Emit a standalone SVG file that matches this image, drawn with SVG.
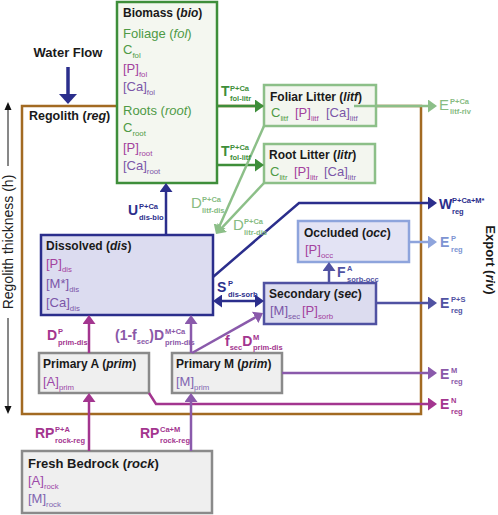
<svg xmlns="http://www.w3.org/2000/svg" width="498" height="515" viewBox="0 0 498 515">
<defs>
<style>
text{font-family:"Liberation Sans",Arial,Helvetica,sans-serif}
.h{font-size:12px;font-weight:bold;fill:#1a1a1a}
.c{font-size:13px}
.s{font-size:7.8px}
.L{font-size:14px;font-weight:bold}
.Lr{font-size:15px}
.ls{font-size:7.5px;font-weight:bold}
.i{font-style:italic}
.g{fill:#4e9a45}
.mg{fill:#a3419e}
.pu{fill:#7b56a8}
.pa{fill:#9c48a8}
.pm{fill:#8064b0}
.tG{fill:#3e8e3a}
.tLG{fill:#86bb82}
.tN{fill:#2b2e8c}
.tLB{fill:#7d94d2}
.tSB{fill:#5052a2}
.tPU{fill:#8a58a8}
.tMG{fill:#a3358f}
.ln{fill:none;stroke-width:2.5}
.box{stroke-width:2.5}
</style>
<marker id="aG" markerUnits="userSpaceOnUse" markerWidth="10" markerHeight="13" refX="6" refY="6.5" orient="auto"><path d="M0,0L9,6.5L0,13z" fill="#3e8e3a"/></marker>
<marker id="aLG" markerUnits="userSpaceOnUse" markerWidth="10" markerHeight="13" refX="6" refY="6.5" orient="auto"><path d="M0,0L9,6.5L0,13z" fill="#8cbf88"/></marker>
<marker id="aN" markerUnits="userSpaceOnUse" markerWidth="10" markerHeight="13" refX="6" refY="6.5" orient="auto-start-reverse"><path d="M0,0L9,6.5L0,13z" fill="#2b2e8c"/></marker>
<marker id="aLB" markerUnits="userSpaceOnUse" markerWidth="10" markerHeight="13" refX="6" refY="6.5" orient="auto"><path d="M0,0L9,6.5L0,13z" fill="#8ea4dc"/></marker>
<marker id="aSB" markerUnits="userSpaceOnUse" markerWidth="10" markerHeight="13" refX="6" refY="6.5" orient="auto"><path d="M0,0L9,6.5L0,13z" fill="#5052a2"/></marker>
<marker id="aPU" markerUnits="userSpaceOnUse" markerWidth="10" markerHeight="13" refX="6" refY="6.5" orient="auto"><path d="M0,0L9,6.5L0,13z" fill="#8a5aab"/></marker>
<marker id="aMG" markerUnits="userSpaceOnUse" markerWidth="10" markerHeight="13" refX="6" refY="6.5" orient="auto"><path d="M0,0L9,6.5L0,13z" fill="#a3358f"/></marker>
</defs>

<g id="regolith">
<rect x="22" y="106" width="399" height="308" fill="none" stroke="#a26a22" stroke-width="2.5"/>
<text x="29" y="120" class="h" style="font-size:12.5px">Regolith (<tspan class="i">reg</tspan>)</text>
</g>

<g id="water-flow">
<text x="68" y="57" text-anchor="middle" style="font-size:13px;font-weight:bold;fill:#1a1a1a">Water Flow</text>
<line x1="68" y1="67" x2="68" y2="95" stroke="#2b2e8c" stroke-width="3.5"/>
<polygon points="59,94 77,94 68,104" fill="#2b2e8c"/>
</g>

<g id="thickness">
<line x1="8" y1="108" x2="8" y2="166" stroke="#111" stroke-width="1"/>
<line x1="8" y1="318" x2="8" y2="408" stroke="#111" stroke-width="1"/>
<polygon points="8,102 4.5,110 11.5,110" fill="#111"/>
<polygon points="8,414 4.5,406 11.5,406" fill="#111"/>
<text transform="translate(13,242) rotate(-90)" text-anchor="middle" style="font-size:14px;fill:#222">Regolith thickness (h)</text>
</g>

<g id="export">
<text transform="translate(486,260) rotate(90)" text-anchor="middle" style="font-size:13px;font-weight:bold;fill:#1a1a1a">Export (<tspan class="i">riv</tspan>)</text>
</g>

<g id="biomass">
<rect x="117" y="2" width="100" height="181" fill="#f4f7f0" stroke="#3e8e3a" class="box"/>
<text x="123" y="17" class="h">Biomass (<tspan class="i">bio</tspan>)</text>
<text x="123" y="38" class="c g">Foliage (<tspan class="i">fol</tspan>)</text>
<text x="123" y="54" class="c g">C<tspan class="s" dy="4">fol</tspan></text>
<text x="123" y="73" class="c mg">[P]<tspan class="s" dy="4">fol</tspan></text>
<text x="123" y="91" class="c pu">[Ca]<tspan class="s" dy="4">fol</tspan></text>
<text x="123" y="115" class="c g">Roots (<tspan class="i">root</tspan>)</text>
<text x="123" y="132" class="c g">C<tspan class="s" dy="4">root</tspan></text>
<text x="123" y="152" class="c mg">[P]<tspan class="s" dy="4">root</tspan></text>
<text x="123" y="170" class="c pu">[Ca]<tspan class="s" dy="4">root</tspan></text>
</g>

<g id="foliar-litter">
<rect x="264" y="85" width="112" height="41" fill="#f3f6ef" stroke="#8cbf88" class="box"/>
<text x="270" y="101" class="h">Foliar Litter (<tspan class="i">litf</tspan>)</text>
<text x="271" y="117" class="c g">C<tspan class="s" dy="4">litf</tspan></text>
<text x="295" y="117" class="c mg">[P]<tspan class="s" dy="4">litf</tspan></text>
<text x="326" y="117" class="c pu">[Ca]<tspan class="s" dy="4">litf</tspan></text>
</g>

<g id="root-litter">
<rect x="264" y="144" width="111" height="39" fill="#f3f6ef" stroke="#8cbf88" class="box"/>
<text x="269" y="159" class="h">Root Litter (<tspan class="i">litr</tspan>)</text>
<text x="270" y="176" class="c g">C<tspan class="s" dy="4">litr</tspan></text>
<text x="294" y="176" class="c mg">[P]<tspan class="s" dy="4">litr</tspan></text>
<text x="324" y="176" class="c pu">[Ca]<tspan class="s" dy="4">litr</tspan></text>
</g>

<g id="dissolved">
<rect x="41" y="235" width="172" height="80" fill="#dcdcf0" stroke="#2b2e8c" class="box"/>
<text x="46" y="250" class="h">Dissolved (<tspan class="i">dis</tspan>)</text>
<text x="46" y="268" class="c mg">[P]<tspan class="s" dy="4">dis</tspan></text>
<text x="46" y="288" class="c pu">[M*]<tspan class="s" dy="4">dis</tspan></text>
<text x="46" y="307" class="c pu">[Ca]<tspan class="s" dy="4">dis</tspan></text>
</g>

<g id="occluded">
<rect x="298" y="221" width="111" height="41" fill="#e3e3f4" stroke="#8ea4dc" class="box"/>
<text x="304" y="237" class="h">Occluded (<tspan class="i">occ</tspan>)</text>
<text x="305" y="254" class="c mg">[P]<tspan class="s" dy="4">occ</tspan></text>
</g>

<g id="secondary">
<rect x="264" y="283" width="112" height="41" fill="#dcdcef" stroke="#5052a2" class="box"/>
<text x="269" y="298" class="h">Secondary (<tspan class="i">sec</tspan>)</text>
<text x="270" y="315" class="c pu">[M]<tspan class="s" dy="4">sec</tspan></text>
<text x="302" y="315" class="c mg">[P]<tspan class="s" dy="4">sorb</tspan></text>
</g>

<g id="primary-a">
<rect x="39" y="353" width="110" height="40" fill="#efefef" stroke="#8a8a8a" class="box"/>
<text x="43" y="368" class="h">Primary A (<tspan class="i">prim</tspan>)</text>
<text x="43" y="386" class="c pa">[A]<tspan class="s" dy="4">prim</tspan></text>
</g>

<g id="primary-m">
<rect x="172" y="353" width="110" height="40" fill="#efefef" stroke="#8a8a8a" class="box"/>
<text x="176" y="368" class="h">Primary M (<tspan class="i">prim</tspan>)</text>
<text x="176" y="386" class="c pm">[M]<tspan class="s" dy="4">prim</tspan></text>
</g>

<g id="bedrock">
<rect x="22" y="451" width="190" height="62" fill="#efefef" stroke="#8a8a8a" class="box"/>
<text x="28" y="468" class="h" style="font-size:13px">Fresh Bedrock (<tspan class="i">rock</tspan>)</text>
<text x="28" y="485" class="c pa">[A]<tspan class="s" dy="4">rock</tspan></text>
<text x="28" y="503" class="c pm">[M]<tspan class="s" dy="4">rock</tspan></text>
</g>

<g id="connectors">
<line x1="217" y1="106" x2="261" y2="106" class="ln" stroke="#3e8e3a" marker-end="url(#aG)"/>
<line x1="217" y1="165" x2="261" y2="165" class="ln" stroke="#3e8e3a" marker-end="url(#aG)"/>
<line x1="354" y1="106" x2="434" y2="106" class="ln" stroke="#8cbf88" marker-end="url(#aLG)"/>
<line x1="264" y1="126" x2="217.2" y2="231.3" class="ln" stroke="#8cbf88" marker-end="url(#aLG)"/>
<line x1="264" y1="183" x2="218.1" y2="231.8" class="ln" stroke="#8cbf88" marker-end="url(#aLG)"/>
<line x1="166" y1="235" x2="166" y2="186" class="ln" stroke="#2b2e8c" marker-end="url(#aN)"/>
<polyline points="213,277 299,203 434,203" class="ln" stroke="#2b2e8c" marker-end="url(#aN)"/>
<line x1="409" y1="242" x2="434" y2="242" class="ln" stroke="#8ea4dc" marker-end="url(#aLB)"/>
<line x1="329" y1="283" x2="329" y2="265" class="ln" stroke="#5052a2" marker-end="url(#aSB)"/>
<line x1="376" y1="303" x2="434" y2="303" class="ln" stroke="#5052a2" marker-end="url(#aSB)"/>
<line x1="216" y1="301" x2="261" y2="301" class="ln" stroke="#2b2e8c" marker-start="url(#aN)" marker-end="url(#aN)"/>
<line x1="89" y1="353" x2="89" y2="318" class="ln" stroke="#a3358f" marker-end="url(#aMG)"/>
<line x1="191" y1="353" x2="191" y2="318" class="ln" stroke="#8a5aab" marker-end="url(#aPU)"/>
<line x1="192" y1="353" x2="260.4" y2="314.5" class="ln" stroke="#8a5aab" marker-end="url(#aPU)"/>
<line x1="282" y1="373" x2="434" y2="373" class="ln" stroke="#8a5aab" marker-end="url(#aPU)"/>
<polyline points="149,393 156,404 434,404" class="ln" stroke="#a3358f" marker-end="url(#aMG)"/>
<line x1="89" y1="451" x2="89" y2="396" class="ln" stroke="#a3358f" marker-end="url(#aMG)"/>
<line x1="191" y1="451" x2="191" y2="396" class="ln" stroke="#8a5aab" marker-end="url(#aPU)"/>
</g>

<g id="labels">
<text x="221" y="96" class="L tG">T</text><text x="230" y="91" class="ls tG">P+Ca</text><text x="230" y="101" class="ls tG">fol-litr</text>
<text x="221" y="156" class="L tG">T</text><text x="230" y="150" class="ls tG">P+Ca</text><text x="230" y="160" class="ls tG">fol-litf</text>
<text x="439" y="110" class="Lr tLG">E</text><text x="450" y="104" class="ls tLG">P+Ca</text><text x="450" y="114" class="ls tLG">litf-riv</text>
<text x="191" y="208" class="Lr tLG">D</text><text x="202" y="202" class="ls tLG">P+Ca</text><text x="202" y="213" class="ls tLG">litf-dis</text>
<text x="233" y="230" class="Lr tLG">D</text><text x="244" y="224" class="ls tLG">P+Ca</text><text x="244" y="235" class="ls tLG">litr-dis</text>
<text x="128" y="215" class="L tN">U</text><text x="139" y="209" class="ls tN">P+Ca</text><text x="139" y="220" class="ls tN">dis-bio</text>
<text x="439" y="209" class="L tN">W</text><text x="452" y="203" class="ls tN">P+Ca+M*</text><text x="452" y="214" class="ls tN">reg</text>
<text x="440" y="247" class="L tLB">E</text><text x="451" y="241" class="ls tLB">P</text><text x="451" y="252" class="ls tLB">reg</text>
<text x="337" y="277" class="L tSB">F</text><text x="347" y="271" class="ls tSB">A</text><text x="347" y="282" class="ls tSB">sorb-occ</text>
<text x="440" y="308" class="L tSB">E</text><text x="451" y="302" class="ls tSB">P+S</text><text x="451" y="313" class="ls tSB">reg</text>
<text x="217" y="292" class="L tN">S</text><text x="228" y="286" class="ls tN">P</text><text x="228" y="297" class="ls tN">dis-sorb</text>
<text x="47" y="340" class="L tMG">D</text><text x="58" y="334" class="ls tMG">P</text><text x="58" y="345" class="ls tMG">prim-dis</text>
<text x="115" y="340" class="L tPU">(1-f<tspan class="ls" dy="4">sec</tspan><tspan dy="-4">)D</tspan></text><text x="165" y="334" class="ls tPU">M+Ca</text><text x="165" y="345" class="ls tPU">prim-dis</text>
<text x="225" y="346" class="L tMG">f<tspan class="ls" dy="4">sec</tspan><tspan dy="-4">D</tspan></text><text x="253" y="340" class="ls tMG">M</text><text x="253" y="350" class="ls tMG">prim-dis</text>
<text x="440" y="379" class="L tPU">E</text><text x="451" y="373" class="ls tPU">M</text><text x="451" y="384" class="ls tPU">reg</text>
<text x="440" y="409" class="L tMG">E</text><text x="451" y="403" class="ls tMG">N</text><text x="451" y="414" class="ls tMG">reg</text>
<text x="35" y="438" class="L tMG">RP</text><text x="55" y="432" class="ls tMG">P+A</text><text x="55" y="443" class="ls tMG">rock-reg</text>
<text x="140" y="438" class="L tMG">RP</text><text x="160" y="432" class="ls tMG">Ca+M</text><text x="160" y="443" class="ls tMG">rock-reg</text>
</g>
</svg>
